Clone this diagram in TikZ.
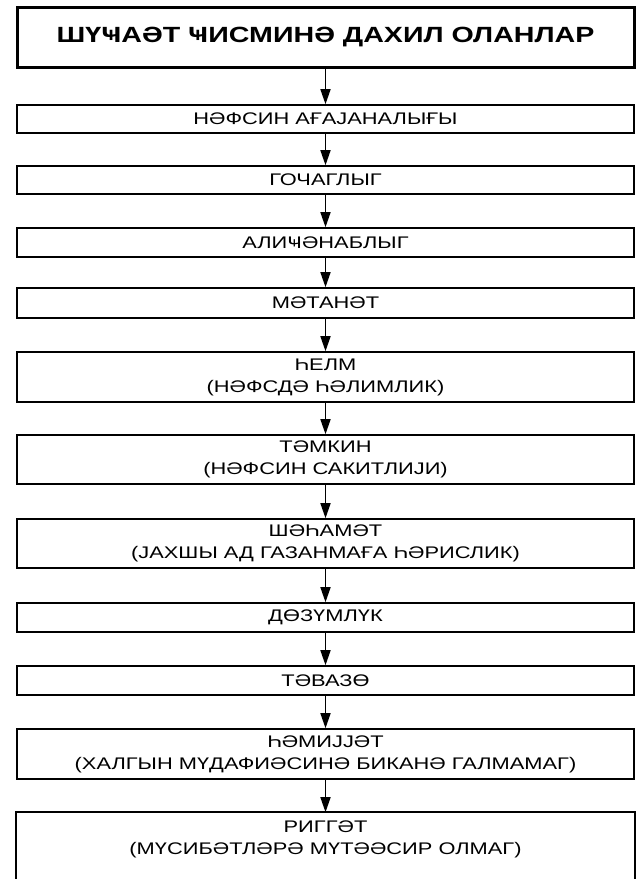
\documentclass[tikz,border=0pt]{standalone}
\usepackage{fontspec}
\setmainfont{Liberation Sans}
\newfontfamily\widefont[FakeStretch=1.3]{Liberation Sans}
\usetikzlibrary{arrows.meta}

\begin{document}
\begin{tikzpicture}[x=1pt,y=-1pt,
    box/.style={draw, line width=1.6pt, minimum width=617pt, inner sep=0pt,
      align=center, font=\widefont\fontsize{16.8}{22}\selectfont},
    headbox/.style={box, line width=3pt, font=\widefont\bfseries\fontsize{22}{26}\selectfont},
    arr/.style={line width=1.6pt, -{Triangle[length=15pt,width=10pt]}}]

  \useasboundingbox (0,0) rectangle (636,879);

  \node[headbox, minimum height=60pt] (head) at (325.5,37) {ШҮҸАӘТ ҸИСМИНӘ ДАХИЛ ОЛАНЛАР};
  \node[box, minimum height=28pt] (nafs)    at (325.5,119)   {НӘФСИН АҒАЈАНАЛЫҒЫ};
  \node[box, minimum height=28pt] (gochag)  at (325.5,180)   {ГОЧАГЛЫГ};
  \node[box, minimum height=29pt] (alijen)  at (325.5,242.5) {АЛИҸӘНАБЛЫГ};
  \node[box, minimum height=30pt] (metanet) at (325.5,303)   {МӘТАНӘТ};
  \node[box, minimum height=50pt] (helm)    at (325.5,377)   {ҺЕЛМ\\(НӘФСДӘ ҺӘЛИМЛИК)};
  \node[box, minimum height=49pt] (temkin)  at (325.5,459.5) {ТӘМКИН\\(НӘФСИН САКИТЛИЈИ)};
  \node[box, minimum height=49pt] (shehamet) at (325.5,543.5) {ШӘҺАМӘТ\\(ЈАХШЫ АД ГАЗАНМАҒА ҺӘРИСЛИК)};
  \node[box, minimum height=29pt] (dozum)   at (325.5,617.5) {ДӨЗҮМЛҮК};
  \node[box, minimum height=29pt] (tevazo)  at (325.5,680.5) {ТӘВАЗӨ};
  \node[box, minimum height=50pt] (hemijjet) at (325.5,754)  {ҺӘМИЈЈӘТ\\(ХАЛГЫН МҮДАФИӘСИНӘ БИКАНӘ ГАЛМАМАГ)};
  % last box runs off the bottom of the page
  \node[box, draw=none, minimum height=53pt] (riggat) at (325.5,839.5) {РИГГӘТ\\(МҮСИБӘТЛӘРӘ МҮТӘӘСИР ОЛМАГ)};
  \draw[line width=1.6pt] ([yshift=-20pt]riggat.south west) |- (riggat.north east) -- ([yshift=-20pt]riggat.south east);

  \foreach \a/\b in {head/nafs, nafs/gochag, gochag/alijen, alijen/metanet,
      metanet/helm, helm/temkin, temkin/shehamet, shehamet/dozum,
      dozum/tevazo, tevazo/hemijjet, hemijjet/riggat}
    \draw[arr] (\a) -- (\b);
\end{tikzpicture}
\end{document}
